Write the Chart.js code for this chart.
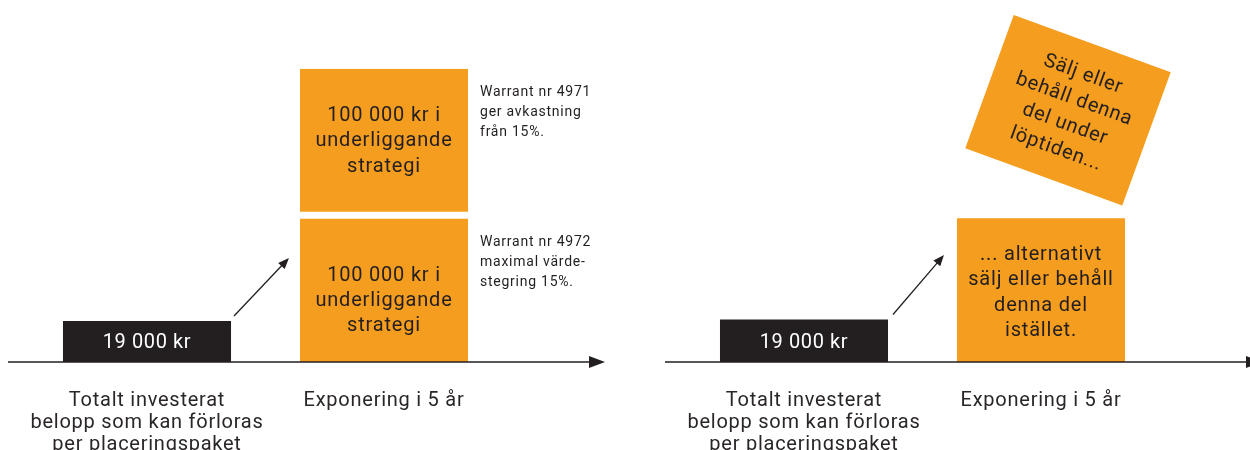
<!DOCTYPE html>
<html><head><meta charset="utf-8">
<script src="https://cdn.jsdelivr.net/npm/chart.js@4.4.1/dist/chart.umd.min.js"></script>
<style>
html,body{margin:0;padding:0;background:#fff;overflow:hidden;width:1250px;height:450px;position:relative}
.panel{position:absolute;top:0;width:625px;height:484px;}
#p1{left:0}#p2{left:657px}
</style></head><body>
<div class="panel" id="p1"><canvas id="c1"></canvas></div>
<div class="panel" id="p2"><canvas id="c2"></canvas></div>
<script>
// ---- data ----
const categories = [['Totalt investerat','belopp som kan förloras','per placeringspaket'], 'Exponering i 5 år'];
const investedKr = 19000;
const blockKr = 100000;
// schematic bar heights (relative units, not to scale)
const leftInvested = [28, null];
const leftLowerBlock = [null, 100];
const leftUpperBlock = [null, 100];
const rightInvested = [29, null];
const rightBlock = [null, 98];
const warrantLower = ['Warrant nr 4972','maximal värde-','stegring 15%.'];
const warrantUpper = ['Warrant nr 4971','ger avkastning','från 15%.'];
const rightBlockText = ['... alternativt','sälj eller behåll','denna del','istället.'];
const tiltedText = ['Sälj eller','behåll denna','del under','löptiden...'];

// ---- styles ----
const ORANGE = '#F59D1E', DARK = '#231F20';
const FONT = 'Roboto, "Noto Sans", sans-serif';
const fmt = n => String(n).replace(/\B(?=(\d{3})+(?!\d))/g, ' ');
const investedText = [fmt(investedKr) + ' kr'];
const blockText = [fmt(blockKr) + ' kr i', 'underliggande', 'strategi'];

function drawLines(ctx, lines, x, yCenter, lh, size, color, align, spacing) {
  ctx.save();
  ctx.font = size + 'px ' + FONT; ctx.fillStyle = color;
  ctx.letterSpacing = (spacing == null ? 0.8 : spacing) + 'px';
  ctx.textAlign = align || 'center'; ctx.textBaseline = 'middle';
  const y0 = yCenter - (lines.length - 1) * lh / 2;
  lines.forEach((t, i) => ctx.fillText(t, x, y0 + i * lh));
  ctx.restore();
}
function arrow(ctx, x1, y1, x2, y2, lw, len, half) {
  const a = Math.atan2(y2 - y1, x2 - x1);
  ctx.save();
  ctx.strokeStyle = DARK; ctx.fillStyle = DARK; ctx.lineWidth = lw;
  ctx.beginPath(); ctx.moveTo(x1, y1);
  ctx.lineTo(x2 - (len - 1) * Math.cos(a), y2 - (len - 1) * Math.sin(a)); ctx.stroke();
  ctx.beginPath(); ctx.moveTo(x2, y2);
  ctx.lineTo(x2 - len * Math.cos(a) + half * Math.sin(a), y2 - len * Math.sin(a) - half * Math.cos(a));
  ctx.lineTo(x2 - len * Math.cos(a) - half * Math.sin(a), y2 - len * Math.sin(a) + half * Math.cos(a));
  ctx.closePath(); ctx.fill();
  ctx.restore();
}

function makeOptions() {
  return {
    responsive: true, maintainAspectRatio: false, animation: false,
    layout: { padding: { left: 28.5, right: 122.5, top: 10, bottom: 0 } },
    plugins: { legend: { display: false }, tooltip: { enabled: false } },
    datasets: { bar: { barPercentage: 0.709, categoryPercentage: 1 } },
    scales: {
      x: { stacked: true, grid: { display: false, drawTicks: false }, border: { display: false },
           ticks: { color: '#2a2627', padding: 28, font: { family: FONT, size: 20, lineHeight: 1.1 } } },
      y: { stacked: true, display: false, min: 0, max: 240 }
    }
  };
}

const commonPlugin = {
  id: 'decor',
  beforeDraw(chart) { chart.ctx.letterSpacing = '0.75px'; },
  afterDatasetsDraw(chart) {
    const ctx = chart.ctx, ca = chart.chartArea;
    const base = chart.scales.y.getPixelForValue(0);
    // axis with arrow
    arrow(ctx, ca.left - 20.5, base, ca.right + 102.5, base, 1.6, 16, 6);
    // invested bar label
    const black = chart.getDatasetMeta(0).data[0];
    drawLines(ctx, investedText, black.x, (black.y + black.base) / 2 + 2, 24, 20, '#FFFFFF', 'center', 0.6);
    const opts = chart.config.options.decor;
    const block = chart.getDatasetMeta(1).data[1];
    const blackRight = black.x + black.width / 2, blockLeft = block.x - block.width / 2;
    arrow(ctx, blackRight + opts.arrowDx, black.y - 5, blockLeft - opts.arrowEnd, base - opts.arrowRise, 1.3, 11, 4.5);
    opts.draw(chart, ctx);
  }
};

const chart1 = new Chart(document.getElementById('c1'), {
  type: 'bar',
  data: { labels: categories, datasets: [
    { label: 'Totalt investerat', data: leftInvested, backgroundColor: DARK },
    { label: 'Warrant nr 4972', data: leftLowerBlock, backgroundColor: ORANGE, borderColor: '#fff', borderSkipped: false,
      borderWidth: { top: 3.5, bottom: 0, left: 0, right: 0 } },
    { label: 'Warrant nr 4971', data: leftUpperBlock, backgroundColor: ORANGE, borderColor: '#fff', borderSkipped: false,
      borderWidth: { top: 0, bottom: 3.5, left: 0, right: 0 } }
  ] },
  options: Object.assign(makeOptions(), { decor: {
    arrowDx: 3, arrowEnd: 11, arrowRise: 104,
    draw(chart, ctx) {
      const lower = chart.getDatasetMeta(1).data[1];
      const upper = chart.getDatasetMeta(2).data[1];
      const lTop = lower.y + 3.5, uBot = upper.base - 3.5;
      drawLines(ctx, blockText, lower.x, (lTop + lower.base) / 2 + 11, 25, 20, DARK);
      drawLines(ctx, blockText, upper.x, (upper.y + uBot) / 2 + 1, 25.5, 20, DARK);
      const nx = upper.x + upper.width / 2 + 12;
      drawLines(ctx, warrantUpper, nx, upper.y + 44, 20, 14, DARK, 'left', 0.75);
      drawLines(ctx, warrantLower, nx, lTop + 44, 20, 14, DARK, 'left', 0.75);
    }
  } }),
  plugins: [commonPlugin]
});

const chart2 = new Chart(document.getElementById('c2'), {
  type: 'bar',
  data: { labels: categories, datasets: [
    { label: 'Totalt investerat', data: rightInvested, backgroundColor: DARK },
    { label: 'Sälj eller behåll', data: rightBlock, backgroundColor: ORANGE }
  ] },
  options: Object.assign(makeOptions(), { decor: {
    arrowDx: 5, arrowEnd: 13, arrowRise: 107,
    draw(chart, ctx) {
      const b = chart.getDatasetMeta(1).data[1];
      drawLines(ctx, rightBlockText, b.x, (b.y + b.base) / 2 + 3, 25.5, 20, DARK);
      // tilted note above the block, same size as the block
      const w = b.width - 1, h = b.base - b.y - 2;
      const cx = b.x + 27, cy = b.y - 108;
      ctx.save();
      ctx.translate(cx, cy); ctx.rotate(20 * Math.PI / 180);
      ctx.fillStyle = ORANGE; ctx.fillRect(-w / 2, -h / 2, w, h);
      drawLines(ctx, tiltedText, 2, 1, 26.5, 20, DARK);
      ctx.restore();
    }
  } }),
  plugins: [commonPlugin]
});
</script>
</body></html>
